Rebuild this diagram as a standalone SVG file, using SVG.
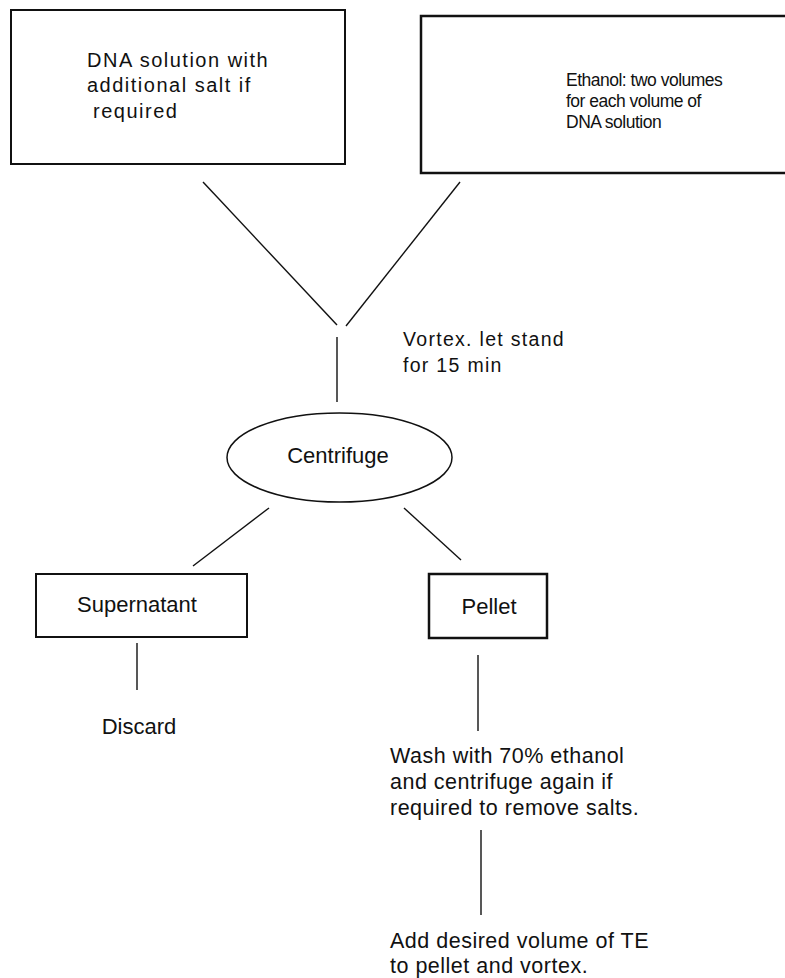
<svg xmlns="http://www.w3.org/2000/svg" width="785" height="978" viewBox="0 0 785 978">
<style>
.box{fill:#fff;stroke:#111;stroke-width:2}
.ln{stroke:#111;stroke-width:1.4;fill:none}
.t{font-family:"Liberation Sans",Arial,sans-serif;fill:#111}
.top1{font-size:20px;letter-spacing:1.5px}
.top2{font-size:17.5px;letter-spacing:-0.5px}
.vx{font-size:19.5px;letter-spacing:1.3px}
.lbl{font-size:22px;text-anchor:middle}
.step{font-size:21.5px;letter-spacing:0.5px}
</style>
<rect width="785" height="978" fill="#fff"/>
<g id="connectors">
<line class="ln" x1="203" y1="182" x2="337" y2="325"/>
<line class="ln" x1="460" y1="182" x2="346" y2="326"/>
<line class="ln" x1="337" y1="337" x2="337" y2="402"/>
<line class="ln" x1="269" y1="508" x2="193" y2="566"/>
<line class="ln" x1="404" y1="508" x2="461" y2="560"/>
<line class="ln" x1="137" y1="643" x2="137" y2="690"/>
<line class="ln" x1="478" y1="655" x2="478" y2="731"/>
<line class="ln" x1="481" y1="830" x2="481" y2="915"/>
</g>
<g id="dna">
<rect class="box" x="11" y="10" width="334" height="154"/>
<text class="t top1" x="87" y="67">DNA solution with</text>
<text class="t top1" x="87" y="92">additional salt if</text>
<text class="t top1" x="93" y="118">required</text>
</g>
<g id="ethanol">
<rect class="box" x="421" y="16" width="380" height="157" style="stroke-width:2.5"/>
<text class="t top2" x="566" y="86">Ethanol: two volumes</text>
<text class="t top2" x="566" y="107">for each volume of</text>
<text class="t top2" x="566" y="128">DNA solution</text>
</g>
<g id="vortex">
<text class="t vx" x="403" y="346">Vortex. let stand</text>
<text class="t vx" x="403" y="372">for 15 min</text>
</g>
<g id="centrifuge">
<ellipse cx="339.5" cy="457.5" rx="112.5" ry="44.5" fill="#fff" stroke="#111" stroke-width="1.5"/>
<text class="t lbl" x="338" y="463">Centrifuge</text>
</g>
<g id="supernatant">
<rect class="box" x="36" y="574" width="211" height="63"/>
<text class="t lbl" x="137" y="612">Supernatant</text>
</g>
<g id="pellet">
<rect class="box" x="429" y="574" width="118" height="64" style="stroke-width:2.5"/>
<text class="t lbl" x="489" y="614">Pellet</text>
</g>
<g id="discard">
<text class="t lbl" x="139" y="734">Discard</text>
</g>
<g id="wash">
<text class="t step" x="390" y="763">Wash with 70% ethanol</text>
<text class="t step" x="390" y="789">and centrifuge again if</text>
<text class="t step" x="390" y="815">required to remove salts.</text>
</g>
<g id="addte">
<text class="t step" x="390" y="948">Add desired volume of TE</text>
<text class="t step" x="390" y="973">to pellet and vortex.</text>
</g>
</svg>
